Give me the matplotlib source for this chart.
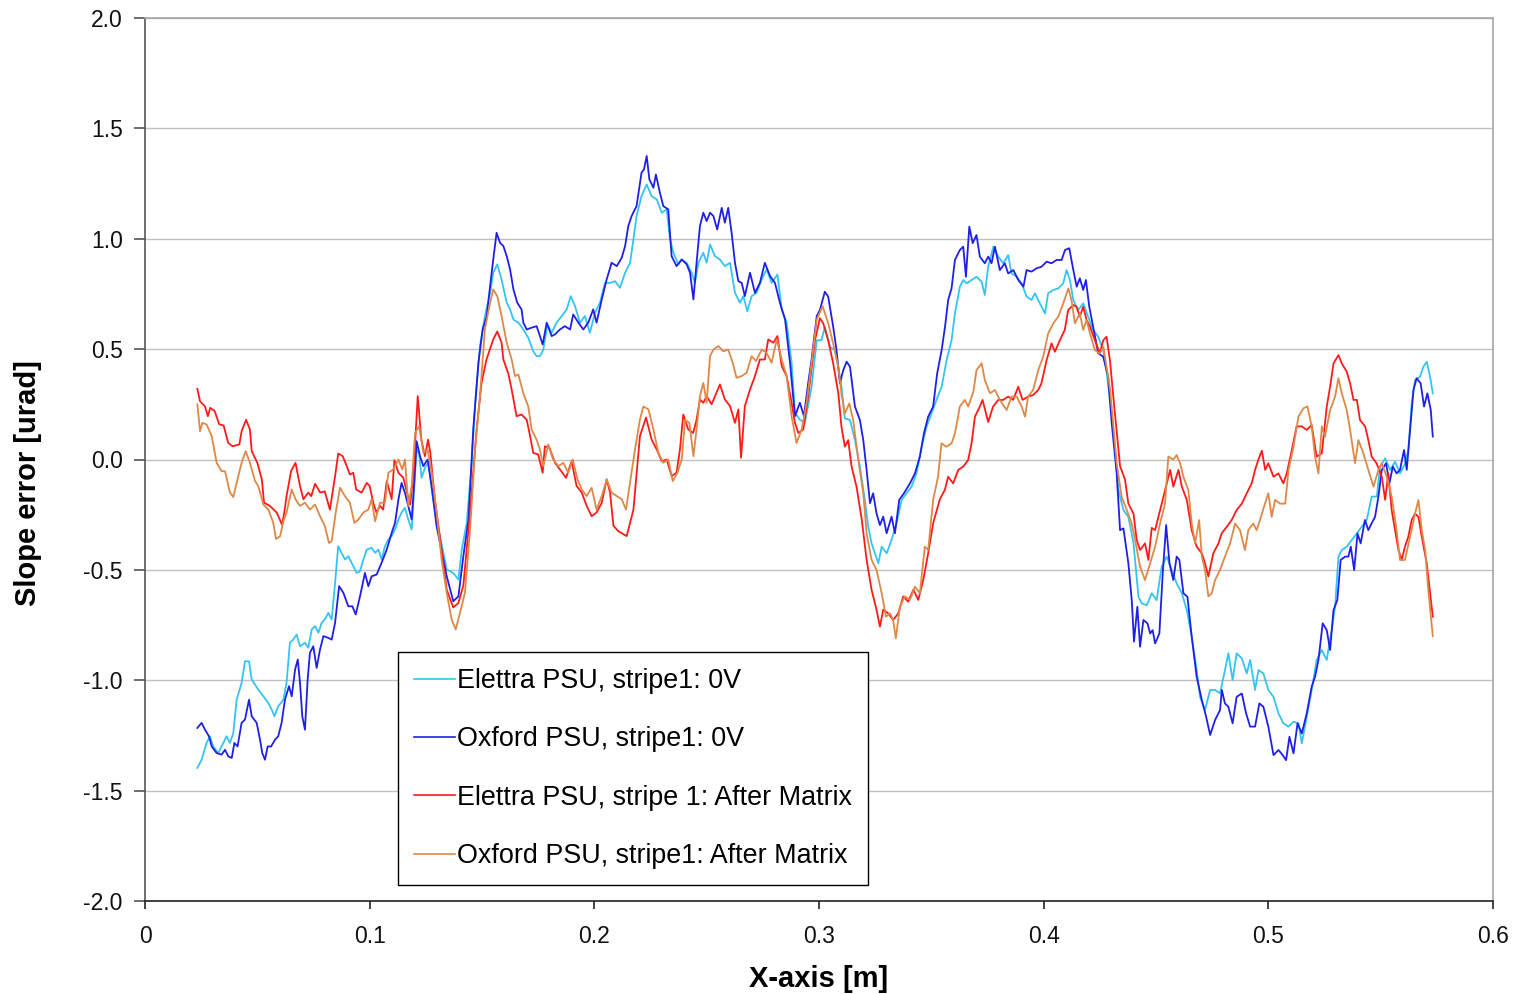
import matplotlib

matplotlib.use("Agg")
import matplotlib.pyplot as plt

plt.rcParams["font.family"] = ["Liberation Sans", "DejaVu Sans"]
plt.rcParams["axes.unicode_minus"] = False

# (x [m], slope error [urad])
elettra_0v = [
    (0.0233, -1.397), (0.0252, -1.36), (0.0274, -1.284), (0.0289, -1.254), (0.0304, -1.30),
    (0.0326, -1.33), (0.0341, -1.30), (0.0363, -1.254), (0.0378, -1.284), (0.0393, -1.24),
    (0.0408, -1.088), (0.0430, -1.012), (0.0445, -0.914), (0.0463, -0.914), (0.0475, -0.997),
    (0.0504, -1.042), (0.0527, -1.073), (0.0549, -1.103), (0.0564, -1.133), (0.0576, -1.163),
    (0.0593, -1.118), (0.0616, -1.088), (0.0630, -1.012), (0.0645, -0.83), (0.0660, -0.816),
    (0.0675, -0.793), (0.0690, -0.846), (0.0712, -0.83), (0.0727, -0.853), (0.0742, -0.77),
    (0.0757, -0.755), (0.0772, -0.785), (0.0786, -0.74), (0.0800, -0.725), (0.0816, -0.695),
    (0.0831, -0.725), (0.0846, -0.559), (0.0860, -0.393), (0.0875, -0.423), (0.0890, -0.453),
    (0.0905, -0.438), (0.0927, -0.483), (0.0942, -0.514), (0.0957, -0.506), (0.0972, -0.453),
    (0.0987, -0.408), (0.1009, -0.40), (0.1024, -0.423), (0.1039, -0.408), (0.1053, -0.453),
    (0.1068, -0.393), (0.1083, -0.363), (0.1098, -0.347), (0.1113, -0.317), (0.1128, -0.272),
    (0.1142, -0.24), (0.1157, -0.219), (0.1172, -0.272), (0.1187, -0.317), (0.1199, -0.12),
    (0.1209, 0.045), (0.1220, 0.03), (0.1231, -0.083), (0.1246, -0.038), (0.1261, -0.015),
    (0.1276, -0.136), (0.1298, -0.287), (0.1313, -0.347), (0.1343, -0.498), (0.1372, -0.514),
    (0.1395, -0.544), (0.1410, -0.408), (0.1432, -0.287), (0.1454, -0.015), (0.1470, 0.257),
    (0.1491, 0.514), (0.1513, 0.65), (0.1536, 0.755), (0.1550, 0.846), (0.1568, 0.884),
    (0.1587, 0.816), (0.1610, 0.71), (0.1625, 0.68), (0.1640, 0.634), (0.1662, 0.62),
    (0.1684, 0.589), (0.1706, 0.551), (0.1728, 0.491), (0.1743, 0.468), (0.1758, 0.468),
    (0.1773, 0.498), (0.1791, 0.612), (0.1810, 0.574), (0.1832, 0.62), (0.1855, 0.65),
    (0.1877, 0.68), (0.1895, 0.74), (0.1914, 0.695), (0.1936, 0.62), (0.1958, 0.65),
    (0.1980, 0.574), (0.2003, 0.665), (0.2025, 0.71), (0.2047, 0.80), (0.2070, 0.80),
    (0.2092, 0.808), (0.2114, 0.778), (0.2137, 0.846), (0.2159, 0.891), (0.2174, 0.997),
    (0.2188, 1.103), (0.2210, 1.193), (0.2233, 1.246), (0.2255, 1.193), (0.2278, 1.178),
    (0.2300, 1.118), (0.2322, 1.133), (0.2337, 0.997), (0.2352, 0.937), (0.2374, 0.884),
    (0.2389, 0.906), (0.2411, 0.891), (0.2433, 0.846), (0.2448, 0.80), (0.2463, 0.891),
    (0.2485, 0.937), (0.2500, 0.891), (0.2515, 0.974), (0.2537, 0.921), (0.2559, 0.906),
    (0.2581, 0.876), (0.2604, 0.891), (0.2626, 0.755), (0.2648, 0.71), (0.2663, 0.74),
    (0.2681, 0.672), (0.2700, 0.74), (0.2722, 0.755), (0.2745, 0.816), (0.2767, 0.861),
    (0.2789, 0.80), (0.2815, 0.838), (0.2834, 0.68), (0.2856, 0.62), (0.2878, 0.438),
    (0.2893, 0.211), (0.2915, 0.18), (0.2937, 0.166), (0.2967, 0.33), (0.2990, 0.54),
    (0.3011, 0.54), (0.3026, 0.60), (0.3049, 0.51), (0.3071, 0.496), (0.3086, 0.42),
    (0.3100, 0.33), (0.3115, 0.186), (0.3138, 0.179), (0.3160, 0.088), (0.3182, -0.032),
    (0.3204, -0.183), (0.3219, -0.304), (0.3234, -0.38), (0.3249, -0.425), (0.3264, -0.47),
    (0.3279, -0.395), (0.3301, -0.425), (0.3323, -0.365), (0.3345, -0.289), (0.3368, -0.183),
    (0.3390, -0.153), (0.3412, -0.123), (0.3434, -0.063), (0.3457, 0.058), (0.3479, 0.149),
    (0.3501, 0.21), (0.3523, 0.27), (0.3546, 0.33), (0.3568, 0.45), (0.3590, 0.54),
    (0.3605, 0.662), (0.3627, 0.783), (0.3642, 0.813), (0.3657, 0.798), (0.3679, 0.813),
    (0.3701, 0.828), (0.3724, 0.805), (0.3738, 0.745), (0.3753, 0.873), (0.3776, 0.964),
    (0.3798, 0.919), (0.3820, 0.889), (0.3842, 0.926), (0.3857, 0.843), (0.3880, 0.828),
    (0.3902, 0.798), (0.3924, 0.738), (0.3946, 0.723), (0.3961, 0.753), (0.3983, 0.707),
    (0.4006, 0.662), (0.4020, 0.753), (0.4043, 0.768), (0.4065, 0.775), (0.4087, 0.798),
    (0.4102, 0.858), (0.4117, 0.813), (0.4132, 0.722), (0.4154, 0.677), (0.4176, 0.707),
    (0.4198, 0.647), (0.4220, 0.587), (0.4243, 0.556), (0.4265, 0.496), (0.4281, 0.39),
    (0.4310, 0.134), (0.4333, -0.138), (0.4355, -0.229), (0.4377, -0.26), (0.4400, -0.38),
    (0.4422, -0.622), (0.4437, -0.652), (0.4459, -0.66), (0.4481, -0.606), (0.4503, -0.637),
    (0.4525, -0.486), (0.4548, -0.44), (0.4570, -0.5), (0.4592, -0.561), (0.4615, -0.606),
    (0.4637, -0.682), (0.4659, -0.803), (0.4681, -0.954), (0.4696, -1.075), (0.4718, -1.135),
    (0.4741, -1.044), (0.4763, -1.044), (0.4785, -1.059), (0.4807, -0.954), (0.4822, -0.878),
    (0.4841, -0.999), (0.4859, -0.878), (0.4882, -0.901), (0.4904, -0.969), (0.4919, -0.908),
    (0.4941, -1.044), (0.4956, -0.954), (0.4978, -0.969), (0.5000, -1.044), (0.5023, -1.075),
    (0.5045, -1.15), (0.5067, -1.195), (0.5090, -1.21), (0.5112, -1.188), (0.5134, -1.195),
    (0.5149, -1.286), (0.5171, -1.165), (0.5193, -1.044), (0.5215, -0.908), (0.5238, -0.863),
    (0.5260, -0.908), (0.5282, -0.773), (0.5297, -0.667), (0.5312, -0.44), (0.5327, -0.41),
    (0.5349, -0.395), (0.5371, -0.365), (0.5394, -0.335), (0.5416, -0.304), (0.5438, -0.274),
    (0.5460, -0.168), (0.5483, -0.168), (0.5497, -0.032), (0.5520, 0.005), (0.5542, -0.047),
    (0.5564, -0.01), (0.5586, -0.063), (0.5609, -0.017), (0.5623, 0.043), (0.5638, 0.254),
    (0.5653, 0.36), (0.5675, 0.375), (0.5690, 0.42), (0.5705, 0.443), (0.5720, 0.375),
    (0.5732, 0.30),
]

oxford_0v = [
    (0.0233, -1.216), (0.0252, -1.193), (0.0267, -1.224), (0.0285, -1.254), (0.0297, -1.30),
    (0.0319, -1.33), (0.0341, -1.337), (0.0356, -1.315), (0.0371, -1.345), (0.0386, -1.352),
    (0.0398, -1.284), (0.0412, -1.30), (0.0430, -1.193), (0.0445, -1.178), (0.0463, -1.088),
    (0.0475, -1.163), (0.0497, -1.193), (0.0512, -1.269), (0.0522, -1.33), (0.0534, -1.36),
    (0.0546, -1.30), (0.0561, -1.30), (0.0579, -1.269), (0.0593, -1.254), (0.0608, -1.193),
    (0.0623, -1.088), (0.0641, -1.027), (0.0653, -1.073), (0.0668, -0.952), (0.0680, -0.906),
    (0.0690, -1.012), (0.0700, -1.163), (0.0712, -1.224), (0.0724, -0.997), (0.0734, -0.876),
    (0.0749, -0.846), (0.0764, -0.944), (0.0779, -0.861), (0.0794, -0.80), (0.0816, -0.808),
    (0.0831, -0.816), (0.0846, -0.74), (0.0864, -0.574), (0.0883, -0.604), (0.0905, -0.665),
    (0.0923, -0.665), (0.0938, -0.702), (0.0957, -0.62), (0.0979, -0.514), (0.0994, -0.574),
    (0.1009, -0.529), (0.1031, -0.521), (0.1053, -0.468), (0.1076, -0.408), (0.1098, -0.332),
    (0.1113, -0.287), (0.1128, -0.181), (0.1142, -0.106), (0.1157, -0.151), (0.1172, -0.211),
    (0.1187, -0.272), (0.1199, -0.091), (0.1209, 0.083), (0.1224, 0.015), (0.1239, -0.03),
    (0.1258, 0.0), (0.1276, -0.121), (0.1298, -0.302), (0.1343, -0.529), (0.1372, -0.642),
    (0.1395, -0.62), (0.1417, -0.438), (0.1440, -0.272), (0.1461, 0.136), (0.1484, 0.438),
    (0.1503, 0.589), (0.1521, 0.65), (0.1536, 0.785), (0.1550, 0.906), (0.1565, 1.027),
    (0.1580, 0.982), (0.1595, 0.967), (0.1610, 0.921), (0.1625, 0.861), (0.1640, 0.77),
    (0.1657, 0.71), (0.1676, 0.68), (0.1684, 0.62), (0.1699, 0.589), (0.1721, 0.597),
    (0.1743, 0.604), (0.1758, 0.559), (0.1770, 0.521), (0.1788, 0.62), (0.1810, 0.559),
    (0.1825, 0.567), (0.1847, 0.589), (0.1869, 0.604), (0.1892, 0.589), (0.1906, 0.657),
    (0.1929, 0.62), (0.1951, 0.589), (0.1973, 0.62), (0.1995, 0.68), (0.2010, 0.62),
    (0.2033, 0.725), (0.2055, 0.816), (0.2077, 0.891), (0.2100, 0.876), (0.2122, 0.914),
    (0.2137, 0.967), (0.2151, 1.057), (0.2166, 1.103), (0.2188, 1.148), (0.2210, 1.299),
    (0.2221, 1.314), (0.2233, 1.375), (0.2245, 1.269), (0.2263, 1.231), (0.2274, 1.291),
    (0.2292, 1.208), (0.2307, 1.148), (0.2329, 1.133), (0.2344, 0.921), (0.2366, 0.876),
    (0.2389, 0.906), (0.2411, 0.884), (0.2426, 0.846), (0.2441, 0.725), (0.2455, 0.891),
    (0.2470, 1.057), (0.2485, 1.118), (0.2500, 1.08), (0.2515, 1.118), (0.2530, 1.103),
    (0.2547, 1.042), (0.2567, 1.14), (0.2581, 1.073), (0.2596, 1.14), (0.2611, 1.027),
    (0.2626, 0.891), (0.2641, 0.808), (0.2656, 0.80), (0.2670, 0.74), (0.2693, 0.846),
    (0.2715, 0.755), (0.2737, 0.80), (0.2759, 0.891), (0.2782, 0.831), (0.2804, 0.80),
    (0.2826, 0.71), (0.2849, 0.634), (0.2871, 0.438), (0.2893, 0.196), (0.2915, 0.257),
    (0.2933, 0.196), (0.2952, 0.347), (0.2967, 0.453), (0.2990, 0.65), (0.3004, 0.677),
    (0.3026, 0.76), (0.3041, 0.738), (0.3063, 0.602), (0.3078, 0.496), (0.3093, 0.345),
    (0.3108, 0.405), (0.3123, 0.443), (0.3138, 0.42), (0.3160, 0.24), (0.3182, 0.179),
    (0.3197, 0.088), (0.3212, -0.048), (0.3227, -0.198), (0.3241, -0.153), (0.3256, -0.244),
    (0.3271, -0.297), (0.3286, -0.259), (0.3301, -0.334), (0.3323, -0.259), (0.3338, -0.334),
    (0.3357, -0.183), (0.3378, -0.153), (0.3405, -0.108), (0.3427, -0.063), (0.3449, 0.013),
    (0.3467, 0.118), (0.3486, 0.194), (0.3508, 0.24), (0.3526, 0.39), (0.3546, 0.496),
    (0.3561, 0.602), (0.3575, 0.723), (0.3590, 0.775), (0.3605, 0.904), (0.3627, 0.949),
    (0.3642, 0.964), (0.3654, 0.828), (0.3669, 1.055), (0.3684, 0.98), (0.3701, 1.017),
    (0.3716, 0.919), (0.3738, 0.889), (0.3753, 0.919), (0.3768, 0.889), (0.3783, 0.964),
    (0.3805, 0.858), (0.3827, 0.889), (0.3842, 0.843), (0.3865, 0.858), (0.3887, 0.813),
    (0.3910, 0.783), (0.3924, 0.858), (0.3946, 0.851), (0.3968, 0.866), (0.3990, 0.873),
    (0.4013, 0.896), (0.4035, 0.889), (0.4058, 0.904), (0.4080, 0.904), (0.4095, 0.949),
    (0.4114, 0.957), (0.4132, 0.858), (0.4147, 0.783), (0.4161, 0.821), (0.4176, 0.768),
    (0.4188, 0.813), (0.4203, 0.692), (0.4220, 0.602), (0.4243, 0.481), (0.4265, 0.466),
    (0.4287, 0.375), (0.4303, 0.164), (0.4325, -0.063), (0.4340, -0.32), (0.4355, -0.312),
    (0.4377, -0.47), (0.4392, -0.637), (0.4402, -0.825), (0.4417, -0.667), (0.4429, -0.848),
    (0.4444, -0.727), (0.4462, -0.742), (0.4474, -0.788), (0.4485, -0.773), (0.4496, -0.833),
    (0.4515, -0.788), (0.4530, -0.516), (0.4545, -0.297), (0.4560, -0.47), (0.4577, -0.546),
    (0.4592, -0.44), (0.4604, -0.455), (0.4622, -0.606), (0.4640, -0.622), (0.4659, -0.803),
    (0.4681, -0.984), (0.4704, -1.09), (0.4723, -1.165), (0.4741, -1.248), (0.4763, -1.18),
    (0.4785, -1.135), (0.4793, -1.044), (0.4807, -1.105), (0.4822, -1.12), (0.4841, -1.195),
    (0.4859, -1.075), (0.4882, -1.06), (0.4901, -1.15), (0.4919, -1.21), (0.4941, -1.21),
    (0.4960, -1.105), (0.4978, -1.12), (0.5000, -1.21), (0.5023, -1.339), (0.5045, -1.316),
    (0.5064, -1.339), (0.5079, -1.362), (0.5094, -1.256), (0.5112, -1.331), (0.5130, -1.195),
    (0.5149, -1.241), (0.5171, -1.15), (0.5193, -1.029), (0.5208, -0.984), (0.5223, -0.908),
    (0.5242, -0.742), (0.5260, -0.773), (0.5275, -0.863), (0.5290, -0.682), (0.5307, -0.637),
    (0.5322, -0.455), (0.5342, -0.44), (0.5356, -0.44), (0.5367, -0.395), (0.5382, -0.501),
    (0.5397, -0.335), (0.5411, -0.38), (0.5430, -0.274), (0.5445, -0.32), (0.5460, -0.289),
    (0.5475, -0.26), (0.5490, -0.168), (0.5505, -0.047), (0.5524, -0.017), (0.5539, -0.108),
    (0.5554, -0.032), (0.5571, -0.063), (0.5586, -0.047), (0.5604, 0.043), (0.5616, -0.047),
    (0.5631, 0.134), (0.5646, 0.315), (0.5660, 0.368), (0.5678, 0.345), (0.5693, 0.24),
    (0.5708, 0.30), (0.5723, 0.224), (0.5732, 0.104),
]

elettra_matrix = [
    (0.0233, 0.32), (0.0245, 0.264), (0.0267, 0.24), (0.0280, 0.196), (0.0290, 0.234),
    (0.0310, 0.22), (0.0330, 0.16), (0.0350, 0.154), (0.0370, 0.076), (0.0390, 0.06),
    (0.0420, 0.068), (0.0430, 0.128), (0.0450, 0.18), (0.0467, 0.136), (0.0475, 0.038),
    (0.0500, -0.015), (0.0520, -0.09), (0.0530, -0.196), (0.0556, -0.21), (0.0586, -0.24),
    (0.0610, -0.295), (0.0620, -0.24), (0.0630, -0.166), (0.0650, -0.053), (0.0670, -0.015),
    (0.0690, -0.12), (0.0705, -0.18), (0.0727, -0.15), (0.0740, -0.166), (0.0757, -0.11),
    (0.0780, -0.15), (0.0800, -0.144), (0.0823, -0.227), (0.0846, -0.076), (0.0860, 0.027),
    (0.0880, 0.015), (0.0898, -0.03), (0.0912, -0.068), (0.0927, -0.06), (0.0940, -0.136),
    (0.0964, -0.15), (0.0987, -0.106), (0.1000, -0.12), (0.1016, -0.196), (0.1030, -0.24),
    (0.1046, -0.21), (0.1060, -0.227), (0.1076, -0.098), (0.1098, -0.18), (0.1110, -0.003),
    (0.1128, -0.06), (0.1150, -0.083), (0.1170, -0.166), (0.1180, -0.204), (0.1194, -0.076),
    (0.1214, 0.287), (0.1230, 0.09), (0.1246, 0.015), (0.1260, 0.09), (0.1270, 0.03),
    (0.1290, -0.18), (0.1310, -0.33), (0.1343, -0.59), (0.1372, -0.67), (0.1395, -0.65),
    (0.1417, -0.57), (0.1447, -0.24), (0.1476, 0.136), (0.1498, 0.347), (0.1520, 0.453),
    (0.1550, 0.544), (0.1568, 0.58), (0.1587, 0.53), (0.1595, 0.453), (0.1617, 0.39),
    (0.1632, 0.317), (0.1654, 0.196), (0.1676, 0.204), (0.1699, 0.18), (0.1714, 0.106),
    (0.1728, 0.03), (0.1750, 0.023), (0.1770, -0.06), (0.1780, 0.06), (0.1800, 0.053),
    (0.1825, -0.015), (0.1847, -0.045), (0.1874, -0.083), (0.1899, -0.008), (0.1921, -0.12),
    (0.1944, -0.15), (0.1966, -0.21), (0.1988, -0.257), (0.2010, -0.24), (0.2033, -0.196),
    (0.2055, -0.09), (0.2070, -0.15), (0.2085, -0.30), (0.2107, -0.325), (0.2144, -0.347),
    (0.2174, -0.227), (0.2203, 0.106), (0.2230, 0.19), (0.2255, 0.09), (0.2278, 0.045),
    (0.2300, -0.008), (0.2322, 0.0), (0.2344, -0.075), (0.2366, -0.06), (0.2381, 0.045),
    (0.2396, 0.204), (0.2418, 0.136), (0.2440, 0.12), (0.2455, 0.18), (0.2470, 0.272),
    (0.2485, 0.257), (0.2500, 0.287), (0.2522, 0.25), (0.2537, 0.287), (0.2559, 0.34),
    (0.2581, 0.272), (0.2604, 0.242), (0.2626, 0.166), (0.2641, 0.227), (0.2653, 0.008),
    (0.2670, 0.242), (0.2693, 0.317), (0.2715, 0.378), (0.2737, 0.453), (0.2759, 0.453),
    (0.2774, 0.544), (0.2797, 0.529), (0.2815, 0.559), (0.2834, 0.423), (0.2856, 0.378),
    (0.2878, 0.257), (0.2893, 0.166), (0.2908, 0.12), (0.2930, 0.136), (0.2952, 0.287),
    (0.2982, 0.54), (0.3004, 0.64), (0.3019, 0.617), (0.3041, 0.54), (0.3063, 0.436),
    (0.3086, 0.30), (0.3100, 0.149), (0.3115, 0.058), (0.3130, 0.088), (0.3145, -0.032),
    (0.3167, -0.123), (0.3190, -0.27), (0.3212, -0.455), (0.3234, -0.59), (0.3256, -0.68),
    (0.3271, -0.757), (0.3286, -0.68), (0.3308, -0.697), (0.3330, -0.727), (0.3353, -0.697),
    (0.3375, -0.62), (0.3397, -0.644), (0.3420, -0.59), (0.3442, -0.636), (0.3464, -0.546),
    (0.3486, -0.425), (0.3508, -0.289), (0.3538, -0.18), (0.3560, -0.138), (0.3575, -0.078),
    (0.3597, -0.108), (0.3620, -0.047), (0.3642, -0.032), (0.3664, -0.002), (0.3679, 0.073),
    (0.3694, 0.194), (0.3716, 0.24), (0.3728, 0.27), (0.3753, 0.17), (0.3775, 0.24),
    (0.3798, 0.27), (0.3820, 0.27), (0.3842, 0.285), (0.3864, 0.27), (0.3887, 0.33),
    (0.3906, 0.27), (0.3931, 0.285), (0.3953, 0.292), (0.3976, 0.315), (0.3990, 0.345),
    (0.4013, 0.45), (0.4035, 0.526), (0.4050, 0.488), (0.4072, 0.54), (0.4094, 0.587),
    (0.4109, 0.677), (0.4132, 0.70), (0.4146, 0.692), (0.4161, 0.647), (0.4176, 0.692),
    (0.4191, 0.632), (0.4206, 0.602), (0.4228, 0.54), (0.4250, 0.48), (0.4265, 0.54),
    (0.4280, 0.556), (0.4295, 0.45), (0.4310, 0.285), (0.4340, -0.03), (0.4362, -0.09),
    (0.4377, -0.2), (0.4400, -0.245), (0.4414, -0.365), (0.4429, -0.41), (0.4451, -0.38),
    (0.4466, -0.455), (0.4481, -0.31), (0.4496, -0.32), (0.4518, -0.23), (0.4540, -0.14),
    (0.4563, -0.047), (0.4577, -0.123), (0.4600, -0.047), (0.4615, -0.123), (0.4637, -0.183),
    (0.4659, -0.32), (0.4681, -0.395), (0.4704, -0.425), (0.4718, -0.47), (0.4733, -0.53),
    (0.4755, -0.425), (0.4778, -0.38), (0.4792, -0.335), (0.4815, -0.305), (0.4837, -0.274),
    (0.4859, -0.229), (0.4882, -0.2), (0.4904, -0.153), (0.4926, -0.108), (0.4941, -0.047),
    (0.4956, 0.0), (0.4971, 0.04), (0.4986, -0.047), (0.5000, -0.017), (0.5023, -0.078),
    (0.5045, -0.063), (0.5067, -0.108), (0.5082, -0.063), (0.5104, 0.04), (0.5126, 0.15),
    (0.5149, 0.15), (0.5171, 0.134), (0.5193, 0.156), (0.5215, 0.013), (0.5238, 0.028),
    (0.5260, 0.24), (0.5275, 0.33), (0.5290, 0.435), (0.5312, 0.473), (0.5327, 0.435),
    (0.5349, 0.398), (0.5364, 0.345), (0.5379, 0.27), (0.5394, 0.27), (0.5408, 0.179),
    (0.5431, 0.15), (0.5445, 0.088), (0.5460, 0.013), (0.5482, -0.017), (0.5505, -0.078),
    (0.5520, -0.183), (0.5534, -0.063), (0.5549, -0.229), (0.5564, -0.32), (0.5579, -0.41),
    (0.5594, -0.455), (0.5608, -0.395), (0.5623, -0.35), (0.5638, -0.274), (0.5653, -0.245),
    (0.5668, -0.26), (0.5683, -0.35), (0.5705, -0.47), (0.5720, -0.606), (0.5732, -0.712),
]

oxford_matrix = [
    (0.0233, 0.25), (0.0245, 0.128), (0.0255, 0.166), (0.0274, 0.159), (0.0297, 0.106),
    (0.0319, -0.015), (0.0341, -0.053), (0.0356, -0.053), (0.0378, -0.15), (0.0393, -0.17),
    (0.0415, -0.076), (0.0430, -0.015), (0.0448, 0.038), (0.0467, -0.015), (0.0490, -0.098),
    (0.0504, -0.12), (0.0527, -0.204), (0.0549, -0.227), (0.0571, -0.287), (0.0583, -0.36),
    (0.0601, -0.348), (0.0616, -0.28), (0.0630, -0.24), (0.0653, -0.136), (0.0670, -0.18),
    (0.0690, -0.21), (0.0712, -0.196), (0.0734, -0.227), (0.0757, -0.204), (0.0779, -0.257),
    (0.0800, -0.30), (0.0819, -0.378), (0.0831, -0.37), (0.0849, -0.24), (0.0868, -0.128),
    (0.0890, -0.166), (0.0912, -0.196), (0.0932, -0.287), (0.0950, -0.272), (0.0972, -0.24),
    (0.0994, -0.227), (0.1009, -0.18), (0.1024, -0.28), (0.1046, -0.196), (0.1068, -0.196),
    (0.1083, -0.06), (0.1105, -0.045), (0.1128, 0.0), (0.1145, -0.045), (0.1157, 0.0),
    (0.1172, -0.21), (0.1187, -0.12), (0.1202, 0.12), (0.1220, 0.151), (0.1239, 0.03),
    (0.1258, 0.045), (0.1276, -0.06), (0.1298, -0.24), (0.1320, -0.453), (0.1343, -0.604),
    (0.1365, -0.725), (0.1383, -0.77), (0.1402, -0.695), (0.1424, -0.604), (0.1447, -0.317),
    (0.1470, 0.06), (0.1491, 0.287), (0.1513, 0.59), (0.1536, 0.71), (0.1550, 0.77),
    (0.1568, 0.74), (0.1587, 0.65), (0.1610, 0.529), (0.1632, 0.453), (0.1647, 0.378),
    (0.1662, 0.385), (0.1684, 0.30), (0.1706, 0.24), (0.1721, 0.136), (0.1743, 0.09),
    (0.1758, 0.045), (0.1773, -0.03), (0.1795, 0.068), (0.1817, 0.0), (0.1840, -0.03),
    (0.1862, -0.015), (0.1884, -0.06), (0.1904, 0.0), (0.1925, -0.09), (0.1944, -0.136),
    (0.1966, -0.166), (0.1988, -0.128), (0.2010, -0.227), (0.2033, -0.166), (0.2055, -0.09),
    (0.2077, -0.15), (0.2100, -0.166), (0.2122, -0.18), (0.2141, -0.227), (0.2159, -0.106),
    (0.2181, 0.045), (0.2203, 0.18), (0.2218, 0.24), (0.2241, 0.227), (0.2263, 0.136),
    (0.2285, 0.03), (0.2307, -0.015), (0.2329, 0.0), (0.2349, -0.098), (0.2370, -0.06),
    (0.2389, 0.0), (0.2404, 0.18), (0.2423, 0.166), (0.2441, 0.015), (0.2455, 0.136),
    (0.2470, 0.287), (0.2485, 0.347), (0.2500, 0.257), (0.2515, 0.468), (0.2530, 0.498),
    (0.2552, 0.514), (0.2574, 0.49), (0.2596, 0.498), (0.2616, 0.438), (0.2633, 0.37),
    (0.2656, 0.378), (0.2678, 0.393), (0.2700, 0.468), (0.2720, 0.446), (0.2745, 0.498),
    (0.2767, 0.483), (0.2789, 0.438), (0.2812, 0.544), (0.2834, 0.453), (0.2856, 0.378),
    (0.2878, 0.196), (0.2900, 0.075), (0.2923, 0.136), (0.2945, 0.257), (0.2967, 0.438),
    (0.2990, 0.634), (0.3016, 0.695), (0.3041, 0.617), (0.3063, 0.526), (0.3086, 0.42),
    (0.3100, 0.30), (0.3115, 0.209), (0.3135, 0.254), (0.3152, 0.179), (0.3175, -0.002),
    (0.3197, -0.153), (0.3212, -0.334), (0.3234, -0.455), (0.3256, -0.5), (0.3279, -0.606),
    (0.3298, -0.712), (0.3316, -0.697), (0.3330, -0.727), (0.3342, -0.81), (0.3360, -0.667),
    (0.3382, -0.62), (0.3405, -0.636), (0.3427, -0.576), (0.3449, -0.606), (0.3471, -0.395),
    (0.3486, -0.41), (0.3508, -0.183), (0.3530, -0.078), (0.3545, 0.073), (0.3568, 0.058),
    (0.3590, 0.073), (0.3605, 0.118), (0.3627, 0.24), (0.3649, 0.27), (0.3664, 0.24),
    (0.3687, 0.307), (0.3701, 0.405), (0.3724, 0.436), (0.3738, 0.36), (0.3761, 0.30),
    (0.3783, 0.315), (0.3805, 0.27), (0.3835, 0.224), (0.3857, 0.285), (0.3880, 0.285),
    (0.3902, 0.24), (0.3917, 0.194), (0.3931, 0.285), (0.3953, 0.315), (0.3976, 0.405),
    (0.3998, 0.466), (0.4020, 0.571), (0.4043, 0.617), (0.4065, 0.647), (0.4087, 0.707),
    (0.4110, 0.775), (0.4124, 0.722), (0.4139, 0.617), (0.4161, 0.662), (0.4176, 0.587),
    (0.4191, 0.632), (0.4206, 0.571), (0.4228, 0.496), (0.4250, 0.48), (0.4266, 0.51),
    (0.4296, 0.315), (0.4325, -0.017), (0.4347, -0.168), (0.4370, -0.229), (0.4392, -0.29),
    (0.4407, -0.365), (0.4429, -0.485), (0.4451, -0.546), (0.4474, -0.47), (0.4496, -0.395),
    (0.4518, -0.29), (0.4540, -0.2), (0.4555, 0.013), (0.4577, 0.0), (0.4592, 0.02),
    (0.4607, -0.017), (0.4622, -0.078), (0.4644, -0.138), (0.4659, -0.29), (0.4674, -0.38),
    (0.4692, -0.274), (0.4704, -0.44), (0.4718, -0.5), (0.4733, -0.62), (0.4748, -0.606),
    (0.4763, -0.546), (0.4785, -0.5), (0.4807, -0.44), (0.4830, -0.38), (0.4852, -0.29),
    (0.4874, -0.32), (0.4896, -0.41), (0.4911, -0.32), (0.4933, -0.29), (0.4948, -0.32),
    (0.4963, -0.274), (0.4985, -0.2), (0.5000, -0.153), (0.5015, -0.26), (0.5030, -0.183),
    (0.5052, -0.2), (0.5075, -0.2), (0.5090, -0.047), (0.5112, 0.058), (0.5134, 0.194),
    (0.5156, 0.232), (0.5174, 0.24), (0.5193, 0.15), (0.5208, 0.013), (0.5223, -0.063),
    (0.5238, 0.15), (0.5252, 0.103), (0.5275, 0.224), (0.5297, 0.285), (0.5312, 0.368),
    (0.5327, 0.30), (0.5349, 0.224), (0.5364, 0.134), (0.5386, -0.017), (0.5401, 0.088),
    (0.5423, 0.028), (0.5445, -0.047), (0.5468, -0.123), (0.5490, -0.047), (0.5505, -0.017),
    (0.5527, -0.078), (0.5549, -0.168), (0.5571, -0.32), (0.5586, -0.455), (0.5608, -0.455),
    (0.5631, -0.35), (0.5653, -0.245), (0.5668, -0.183), (0.5683, -0.32), (0.5698, -0.41),
    (0.5712, -0.59), (0.5732, -0.80),
]

series = [elettra_0v, oxford_0v, elettra_matrix, oxford_matrix]
series_labels = [
    "Elettra PSU, stripe1: 0V",
    "Oxford PSU, stripe1: 0V",
    "Elettra PSU, stripe 1: After Matrix",
    "Oxford PSU, stripe1: After Matrix",
]
series_colors = ["#33C4F2", "#1F1FE8", "#FF1A1A", "#DE8848"]

x_ticks = [0, 0.1, 0.2, 0.3, 0.4, 0.5, 0.6]
x_tick_labels = ["0", "0.1", "0.2", "0.3", "0.4", "0.5", "0.6"]
y_ticks = [-2.0, -1.5, -1.0, -0.5, 0.0, 0.5, 1.0, 1.5, 2.0]

W, H = 1517, 994
fig = plt.figure(figsize=(W / 100, H / 100), dpi=100)
ax = fig.add_axes([145 / W, 1 - 901 / H, 1348 / W, 883 / H])

for points, label, color in zip(series, series_labels, series_colors):
    xs, ys = zip(*points)
    ax.plot(xs, ys, color=color, linewidth=1.3, label=label)

ax.set_xlim(0, 0.6)
ax.set_ylim(-2.0, 2.0)
ax.set_xticks(x_ticks)
ax.set_xticklabels(x_tick_labels)
ax.set_yticks(y_ticks)
ax.set_yticklabels([f"{v:.1f}" for v in y_ticks])

ax.yaxis.grid(True, color="#c0c0c0", linewidth=1.0)
ax.set_axisbelow(True)

ax.spines["top"].set_color("#a6a6a6")
ax.spines["right"].set_color("#a6a6a6")
ax.spines["left"].set_color("#555555")
ax.spines["bottom"].set_color("#222222")
for side in ["top", "right", "left", "bottom"]:
    ax.spines[side].set_linewidth(1.2)

ax.tick_params(axis="y", direction="out", length=8, width=1.2, color="#555555",
               labelsize=16.5, pad=8, labelcolor="#111111")
ax.tick_params(axis="x", direction="out", length=6, width=1.2, color="#222222",
               labelsize=16.5, pad=11, labelcolor="#111111")

ax.set_xlabel("X-axis [m]", fontsize=21, fontweight="bold")
ax.xaxis.set_label_coords(0.5, -0.0725)
ax.set_ylabel("Slope error [urad]", fontsize=21, fontweight="bold", va="center")
ax.yaxis.set_label_coords(-0.087, 0.473)

leg = ax.legend(
    loc="upper left",
    bbox_to_anchor=(398 / W, 1 - 652 / H),
    bbox_transform=fig.transFigure,
    fontsize=19.4,
    frameon=True,
    fancybox=False,
    framealpha=1,
    edgecolor="black",
    borderpad=0.6,
    borderaxespad=0,
    handlelength=1.5,
    handletextpad=0.08,
    labelspacing=1.2,
)
leg.get_frame().set_linewidth(1.0)
for line in leg.get_lines():
    line.set_linewidth(1.2)

fig.savefig("out.png", dpi=100)
